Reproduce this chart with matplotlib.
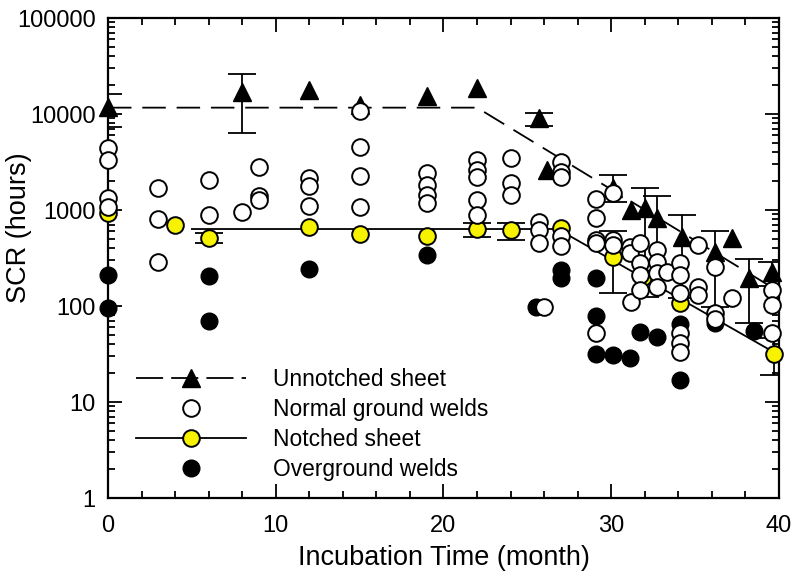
import numpy as np
import matplotlib.pyplot as plt
from matplotlib.lines import Line2D
from matplotlib.ticker import LogLocator, MultipleLocator

plt.rcParams['font.family'] = ['Liberation Sans', 'DejaVu Sans']

# Unnotched sheet (triangles) with error bar limits (0 = no bar)
tri_x = [0, 8, 12, 15, 19, 22, 25.7, 26.2, 30.1, 31.2, 32.0, 32.7, 34.2, 36.2, 37.2, 38.2, 39.6]
tri_y = [11900, 17100, 18000, 12400, 15400, 18500, 9020, 2610, 1680, 1000, 1060, 820, 527, 368, 507, 195, 225]
tri_lo = [7380, 6380, 0, 0, 0, 0, 7500, 0, 1200, 0, 125, 267, 120, 97, 0, 67, 160]
tri_hi = [16000, 25900, 0, 0, 0, 0, 10330, 0, 2340, 0, 1683, 1400, 890, 604, 0, 310, 285]

# Normal ground welds (open circles)
open_x = [0, 0, 0, 0,
          3, 3, 3,
          6, 6,
          8,
          9, 9, 9,
          12, 12, 12,
          15, 15, 15, 15,
          19, 19, 19, 19,
          22, 22, 22, 22, 22,
          24, 24, 24,
          25.7, 25.7, 25.7,
          26.0,
          27, 27, 27, 27, 27,
          29.1, 29.1, 29.1, 29.1, 29.1,
          30.1, 30.1, 30.1,
          31.1, 31.1, 31.2,
          31.7, 31.7, 31.7, 31.7,
          32.7, 32.7, 32.7, 32.7,
          33.3,
          34.1, 34.1, 34.1, 34.1, 34.1, 34.1,
          35.2, 35.2, 35.2,
          36.2, 36.2, 36.2,
          37.2,
          39.6, 39.6, 39.6]
open_y = [4390, 3320, 1320, 1080,
          1700, 800, 290,
          2050, 890,
          950,
          2830, 1400, 1270,
          2140, 1780, 1110,
          10750, 4570, 2260, 1070,
          2410, 1820, 1430, 1190,
          3320, 2610, 2190, 1270, 890,
          3460, 1900, 1430,
          755, 620, 450,
          98,
          3190, 2510, 2220, 530, 420,
          1300, 820, 490, 450, 52,
          1490, 490, 430,
          415, 354, 111,
          450, 278, 210, 147,
          383, 290, 219, 159,
          228,
          278, 210, 136, 52, 41, 33,
          432, 159, 130,
          257, 84, 74,
          120,
          147, 102, 52]

# Overground welds (filled black circles)
black_x = [0, 0, 6, 6, 12, 19, 25.5, 27, 27, 29.1, 29.1, 29.1, 30.1, 31.1, 31.7, 32.7, 34.1, 34.1, 36.2, 38.5]
black_y = [210, 95, 205, 70, 243, 340, 98, 237, 194, 198, 78, 32, 31, 29, 53, 47, 65, 17, 66, 55]

# Notched sheet (yellow circles)
notch_x = [0, 4, 6, 12, 15, 19, 22, 24, 27, 30.1, 31.9, 34.1, 39.7]
notch_y = [924, 698, 515, 670, 562, 536, 630, 619, 645, 326, 202, 107, 32]
notch_lo = [0, 0, 456, 0, 0, 0, 527, 490, 0, 136, 0, 0, 19]
notch_hi = [0, 0, 571, 0, 0, 0, 727, 727, 0, 600, 0, 0, 46]

# fitted trend lines
fit_unnotched_x = [0, 22, 39.7]
fit_unnotched_y = [11650, 11650, 152]
fit_notched_x = [5, 26.8, 39.7]
fit_notched_y = [634, 634, 33]


def asym_err(y, lo, hi):
    y = np.array(y, dtype=float)
    lo = np.array(lo, dtype=float)
    hi = np.array(hi, dtype=float)
    has = hi > 0
    lower = np.where(has, y - lo, 0)
    upper = np.where(has, hi - y, 0)
    return has, np.vstack([lower, upper])


fig = plt.figure(figsize=(7.96, 5.85), dpi=100)
ax = fig.add_axes([0.1357, 0.1487, 0.8429, 0.8205])

ax.plot(fit_unnotched_x, fit_unnotched_y, color='black', lw=1.3, dashes=(13, 6), zorder=2)
ax.plot(fit_notched_x, fit_notched_y, color='black', lw=1.3, zorder=2)

has, err = asym_err(tri_y, tri_lo, tri_hi)
ax.errorbar(np.array(tri_x)[has], np.array(tri_y)[has], yerr=err[:, has], fmt='none',
            ecolor='black', elinewidth=1.3, capsize=10, capthick=1.3, zorder=3)
has, err = asym_err(notch_y, notch_lo, notch_hi)
ax.errorbar(np.array(notch_x)[has], np.array(notch_y)[has], yerr=err[:, has], fmt='none',
            ecolor='black', elinewidth=1.3, capsize=10, capthick=1.3, zorder=3)

ms = 12
ax.plot(tri_x, tri_y, ls='none', marker='^', ms=13, mfc='black', mec='black', zorder=4, clip_on=False)
ax.plot(notch_x, notch_y, ls='none', marker='o', ms=ms, mfc='#f7f200', mec='black', mew=1.4, zorder=5, clip_on=False)
ax.plot(black_x, black_y, ls='none', marker='o', ms=ms, mfc='black', mec='black', zorder=6, clip_on=False)
ax.plot(open_x, open_y, ls='none', marker='o', ms=ms, mfc='white', mec='black', mew=1.4, zorder=7, clip_on=False)

ax.set_yscale('log')
ax.set_xlim(0, 40)
ax.set_ylim(1, 100000)
ax.xaxis.set_major_locator(MultipleLocator(10))
ax.xaxis.set_minor_locator(MultipleLocator(2))
ax.yaxis.set_major_locator(LogLocator(base=10, numticks=10))
ax.yaxis.set_minor_locator(LogLocator(base=10, subs=np.arange(2, 10), numticks=20))
ax.yaxis.set_major_formatter(plt.FuncFormatter(lambda v, p: f'{v:.0f}'))
ax.tick_params(which='both', direction='in', top=True, right=True, labelsize=17, width=1.3)
ax.tick_params(which='major', length=10)
ax.tick_params(axis='x', which='major', pad=12)
ax.tick_params(axis='y', which='major', pad=9)
ax.tick_params(which='minor', length=5)
for s in ax.spines.values():
    s.set_linewidth(1.6)

ax.set_xlabel('Incubation Time (month)', fontsize=19.5, labelpad=6)
ax.set_ylabel('SCR (hours)', fontsize=19.5)
ax.yaxis.set_label_coords(-0.113, 0.5625)

handles = [
    Line2D([], [], color='black', lw=1.3, dashes=(15, 4.5), marker='^', ms=13, mfc='black', mec='black'),
    Line2D([], [], ls='none', marker='o', ms=ms, mfc='white', mec='black', mew=1.4),
    Line2D([], [], color='black', lw=1.3, marker='o', ms=ms, mfc='#f7f200', mec='black', mew=1.4),
    Line2D([], [], ls='none', marker='o', ms=ms, mfc='black', mec='black'),
]
labels = ['Unnotched sheet', 'Normal ground welds', 'Notched sheet', 'Overground welds']
ax.legend(handles, labels, loc='upper left', bbox_to_anchor=(0.025, 0.295), frameon=False,
          fontsize=16.4, handlelength=4.8, handletextpad=1.2, labelspacing=0.31, borderpad=0)

fig.savefig('out.png', dpi=100)
